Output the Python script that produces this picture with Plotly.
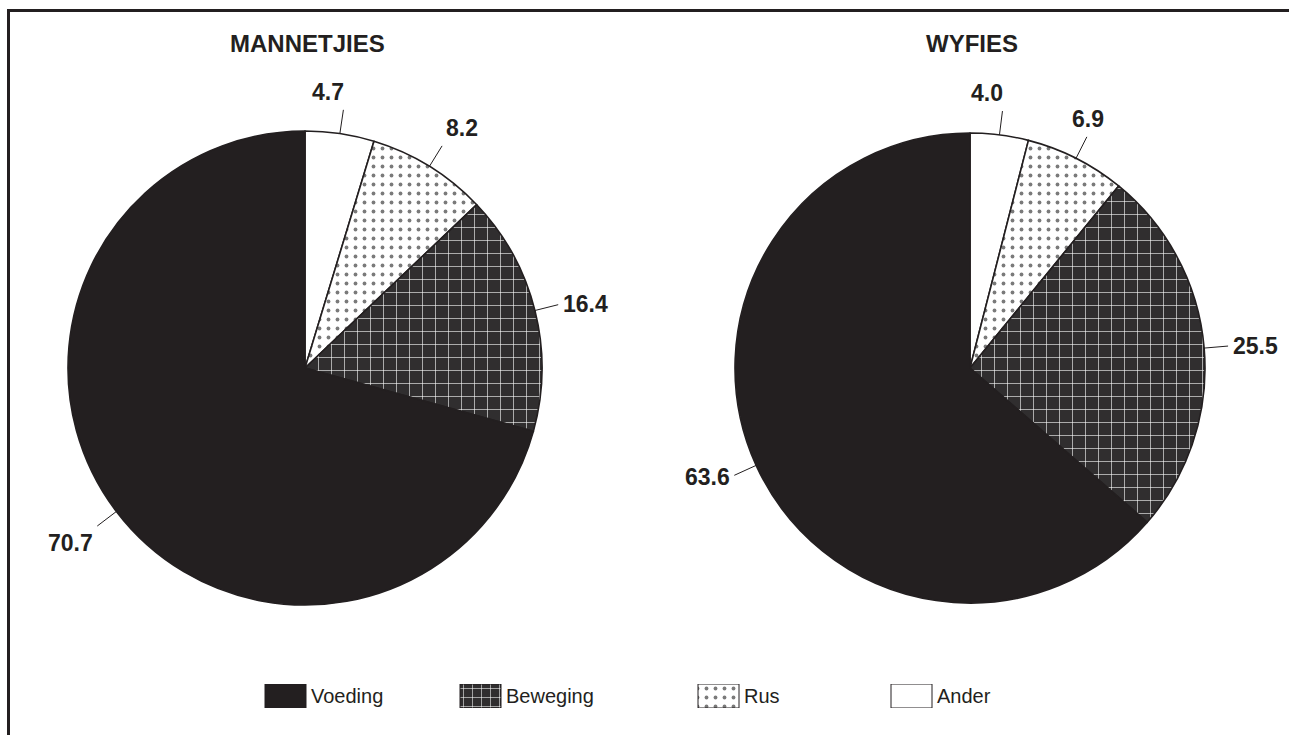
import math
import plotly.graph_objects as go

# Data
categories = ["Ander", "Rus", "Beweging", "Voeding"]
mannetjies = [4.7, 8.2, 16.4, 70.7]
wyfies = [4.0, 6.9, 25.5, 63.6]
titles = ["MANNETJIES", "WYFIES"]
legend_order = ["Voeding", "Beweging", "Rus", "Ander"]

W, H = 1289, 735
INK = "#231f20"

# Slice styling per category
fill = {"Ander": "white", "Rus": "white", "Beweging": "#302e2f", "Voeding": INK}
pat_shape = {"Ander": "", "Rus": ".", "Beweging": "+", "Voeding": ""}
pat_fg = {"Ander": INK, "Rus": "#7a7a7a", "Beweging": "white", "Voeding": INK}
pat_size = {"Ander": 8, "Rus": 9, "Beweging": 13, "Voeding": 8}
pat_sol = {"Ander": 0.2, "Rus": 0.14, "Beweging": 0.09, "Voeding": 0.2}


def px(x):
    return x / W


def py(y):
    return 1 - y / H


# Pie geometry in pixels: (centre x, centre y, radius)
pies = [(305, 368, 237), (970, 368, 235)]
series = [mannetjies, wyfies]

fig = go.Figure()
annotations = []
shapes = []

for (cx, cy, r), vals, title in zip(pies, series, titles):
    fig.add_trace(go.Pie(
        labels=categories,
        values=vals,
        sort=False,
        direction="clockwise",
        rotation=0,
        textinfo="none",
        hoverinfo="label+value",
        domain=dict(x=[px(cx - r), px(cx + r)], y=[py(cy + r), py(cy - r)]),
        marker=dict(
            colors=[fill[c] for c in categories],
            line=dict(color=INK, width=1.6),
            pattern=dict(
                shape=[pat_shape[c] for c in categories],
                fgcolor=[pat_fg[c] for c in categories],
                bgcolor=[fill[c] for c in categories],
                size=[pat_size[c] for c in categories],
                solidity=[pat_sol[c] for c in categories],
                fillmode="replace",
            ),
        ),
        showlegend=False,
    ))

    annotations.append(dict(
        x=px(cx + 2), y=py(43), xref="paper", yref="paper",
        text=f"<b>{title}</b>", showarrow=False,
        font=dict(family="Liberation Sans, Arial", size=24, color=INK),
        xanchor="center", yanchor="middle",
    ))

    # Value labels with radial leader lines
    total = sum(vals)
    cum = 0.0
    for v in vals:
        mid = (cum + v / 2) / total * 2 * math.pi
        cum += v
        s, c = math.sin(mid), math.cos(mid)
        x0, y0 = cx + r * s, cy - r * c
        x1, y1 = cx + (r + 24) * s, cy - (r + 24) * c
        shapes.append(dict(type="line", xref="paper", yref="paper",
                           x0=px(x0), y0=py(y0), x1=px(x1), y1=py(y1),
                           line=dict(color=INK, width=1)))
        xa = "left" if s > 0.5 else ("right" if s < -0.5 else "center")
        ya = "bottom" if c > 0.5 else ("top" if c < -0.5 else "middle")
        tx = x1 + 3 * s
        ty = y1 - 3 * c
        if xa == "center" and s < 0.2:
            tx -= 16
        annotations.append(dict(
            x=px(tx), y=py(ty), xref="paper", yref="paper",
            text=f"<b>{v:.1f}</b>", showarrow=False,
            font=dict(family="Liberation Sans, Arial", size=23, color=INK),
            xanchor=xa, yanchor=ya,
        ))

# Legend: swatches drawn as bars on a hidden axis measured in pixels
legend_x = [265, 460, 698, 891]
sw_w = 41
for lx, name in zip(legend_x, legend_order):
    fig.add_trace(go.Bar(
        x=[lx + sw_w / 2],
        y=[1],
        base=0,
        width=sw_w,
        marker=dict(
            color=fill[name],
            line=dict(color=INK, width=1),
            pattern=dict(
                shape=pat_shape[name],
                fgcolor=pat_fg[name],
                bgcolor=fill[name],
                size=9 if name == "Beweging" else pat_size[name],
                solidity=0.12 if name == "Beweging" else pat_sol[name],
                fillmode="replace",
            ),
        ),
        hoverinfo="skip",
        showlegend=False,
    ))
    annotations.append(dict(
        x=px(lx + sw_w + 3), y=py(696), xref="paper", yref="paper",
        text=name, showarrow=False,
        font=dict(family="Liberation Sans, Arial", size=20, color=INK),
        xanchor="left", yanchor="middle",
    ))

# Frame lines along the top and left
shapes.append(dict(type="line", xref="paper", yref="paper",
                   x0=px(8), y0=py(10.5), x1=1, y1=py(10.5),
                   line=dict(color=INK, width=3)))
shapes.append(dict(type="line", xref="paper", yref="paper",
                   x0=px(8.5), y0=py(9), x1=px(8.5), y1=0,
                   line=dict(color=INK, width=3)))

fig.update_layout(
    width=W, height=H,
    margin=dict(l=0, r=0, t=0, b=0),
    paper_bgcolor="white", plot_bgcolor="rgba(0,0,0,0)",
    xaxis=dict(visible=False, range=[0, W], domain=[0, 1], fixedrange=True),
    yaxis=dict(visible=False, range=[0, 1], domain=[py(708), py(684)], fixedrange=True),
    barmode="overlay",
    annotations=annotations,
    shapes=shapes,
    showlegend=False,
)

fig.write_html("out.html")
